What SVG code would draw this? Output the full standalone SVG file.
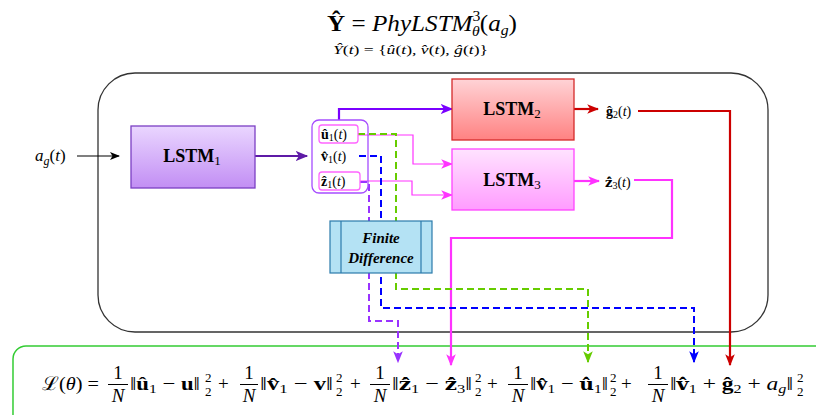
<svg xmlns="http://www.w3.org/2000/svg" width="816" height="415" viewBox="0 0 816 415">
<style>
  text { font-family: "Liberation Serif", "DejaVu Serif", serif; fill: #000; }
  .b { font-weight: bold; }
  .i { font-style: italic; }
  .dv { font-family: "DejaVu Serif", serif; }
  .lbl { font-size: 18px; font-weight: bold; text-anchor: middle; }
  .sm { font-size: 14px; }
  .m { font-size: 19px; }
  .s { font-size: 13px; }
  .ln { fill: none; }
  .dash { stroke-dasharray: 7 4; stroke-width: 2; fill: none; }
</style>
<defs>
  <linearGradient id="g1" x1="0" y1="0" x2="0" y2="1"><stop offset="0" stop-color="#ead6ff"/><stop offset="1" stop-color="#c28ef4"/></linearGradient>
  <linearGradient id="g2" x1="0" y1="0" x2="0" y2="1"><stop offset="0" stop-color="#ffd3d6"/><stop offset="1" stop-color="#ff8282"/></linearGradient>
  <linearGradient id="g3" x1="0" y1="0" x2="0" y2="1"><stop offset="0" stop-color="#ffe3ff"/><stop offset="1" stop-color="#ff9cff"/></linearGradient>
  <marker id="aK" viewBox="0 0 10 8" refX="9" refY="4" markerWidth="10" markerHeight="8" markerUnits="userSpaceOnUse" orient="auto"><path d="M0,0 L10,4 L0,8 L2.5,4 z" fill="#000"/></marker>
  <marker id="aP" viewBox="0 0 10 8" refX="9" refY="4" markerWidth="13" markerHeight="10" markerUnits="userSpaceOnUse" orient="auto"><path d="M0,0 L10,4 L0,8 L2.5,4 z" fill="#5e1aa6"/></marker>
  <marker id="aV" viewBox="0 0 10 8" refX="9" refY="4" markerWidth="13" markerHeight="10" markerUnits="userSpaceOnUse" orient="auto"><path d="M0,0 L10,4 L0,8 L2.5,4 z" fill="#7a00ff"/></marker>
  <marker id="aR" viewBox="0 0 10 8" refX="9" refY="4" markerWidth="12" markerHeight="10" markerUnits="userSpaceOnUse" orient="auto"><path d="M0,0 L10,4 L0,8 L2.5,4 z" fill="#cc0000"/></marker>
  <marker id="aM" viewBox="0 0 10 8" refX="9" refY="4" markerWidth="12" markerHeight="10" markerUnits="userSpaceOnUse" orient="auto"><path d="M0,0 L10,4 L0,8 L2.5,4 z" fill="#ff33ff"/></marker>
  <marker id="aG" viewBox="0 0 10 8" refX="9" refY="4" markerWidth="12" markerHeight="10" markerUnits="userSpaceOnUse" orient="auto"><path d="M0,0 L10,4 L0,8 L2.5,4 z" fill="#66cc00"/></marker>
  <marker id="aB" viewBox="0 0 10 8" refX="9" refY="4" markerWidth="12" markerHeight="10" markerUnits="userSpaceOnUse" orient="auto"><path d="M0,0 L10,4 L0,8 L2.5,4 z" fill="#0000ff"/></marker>
  <marker id="aU" viewBox="0 0 10 8" refX="9" refY="4" markerWidth="12" markerHeight="10" markerUnits="userSpaceOnUse" orient="auto"><path d="M0,0 L10,4 L0,8 L2.5,4 z" fill="#9933ff"/></marker>
</defs>
<rect width="816" height="415" fill="#fff"/>

<!-- Title -->
<g id="title">
  <text x="327" y="31" font-size="24" textLength="190" lengthAdjust="spacingAndGlyphs"><tspan class="b">Ŷ</tspan> = <tspan class="i">PhyLSTM</tspan><tspan font-size="15" dy="-10">3</tspan><tspan class="i" font-size="15" dx="-8" dy="15">θ</tspan><tspan dy="-5">(</tspan><tspan class="i">a</tspan><tspan class="i" font-size="15" dy="4">g</tspan><tspan dy="-4">)</tspan></text>
  <text x="333" y="54" font-size="12.5" textLength="155" lengthAdjust="spacingAndGlyphs"><tspan class="i">Ŷ</tspan>(<tspan class="i">t</tspan>) = {<tspan class="i">û</tspan>(<tspan class="i">t</tspan>), <tspan class="i">v̂</tspan>(<tspan class="i">t</tspan>), <tspan class="i">ĝ</tspan>(<tspan class="i">t</tspan>)}</text>
</g>

<!-- frames -->
<rect id="system" x="98" y="73" width="670" height="259" rx="37" fill="none" stroke="#333" stroke-width="1.3"/>
<rect id="lossframe" x="13" y="346" width="830" height="100" rx="13" fill="none" stroke="#33cc33" stroke-width="1.5"/>

<!-- connectors -->
<g id="connectors">
  <path class="ln" d="M77,156 H119" stroke="#000" stroke-width="1.2" marker-end="url(#aK)"/>
  <path class="ln" d="M255,156 H307" stroke="#5e1aa6" stroke-width="2.2" marker-end="url(#aP)"/>
  <path class="ln" d="M339,120 V109 H452" stroke="#7a00ff" stroke-width="2.2" marker-end="url(#aV)"/>
  <path class="ln" d="M358,135 H413 V164 H452" stroke="#ff33ff" stroke-width="1.2" marker-end="url(#aM)"/>
  <path class="ln" d="M360,181 H412 V195 H452" stroke="#ff33ff" stroke-width="1.2" marker-end="url(#aM)"/>
  <path class="ln" d="M574,109 H598" stroke="#cc0000" stroke-width="2.2" marker-end="url(#aR)"/>
  <path class="ln" d="M638,111 H730 V365" stroke="#cc0000" stroke-width="2.2" marker-end="url(#aR)"/>
  <path class="ln" d="M574,181 H599" stroke="#ff33ff" stroke-width="2.2" marker-end="url(#aM)"/>
  <path class="ln" d="M634,180 H672 V238 H451 V365" stroke="#ff33ff" stroke-width="2.2" marker-end="url(#aM)"/>
  <path class="dash" d="M358,134 H396 V289 H588 V362" stroke="#66cc00" marker-end="url(#aG)"/>
  <path class="dash" d="M359,156 H381 V308 H694 V362" stroke="#0000ff" marker-end="url(#aB)"/>
  <path class="dash" d="M360,182 H369 V321 H398 V362" stroke="#9933ff" marker-end="url(#aU)"/>
</g>

<!-- nodes -->
<g id="input">
  <text x="35" y="161" font-size="17"><tspan class="i">a</tspan><tspan class="i" font-size="12" dy="4">g</tspan><tspan dy="-4">(</tspan><tspan class="i">t</tspan>)</text>
</g>
<g id="lstm1">
  <rect x="131" y="126" width="124" height="62" fill="url(#g1)" stroke="#7b3fc4" stroke-width="1.3"/>
  <text class="lbl" x="192" y="162">LSTM<tspan font-weight="normal" font-size="13" dy="3">1</tspan></text>
</g>
<g id="outputs1">
  <rect x="312" y="120" width="56" height="73" rx="7" fill="none" stroke="#a64dff" stroke-width="1.3"/>
  <rect x="319" y="125" width="39" height="18" rx="3" fill="#fff" stroke="#ff66ff" stroke-width="1.3"/>
  <rect x="319" y="172" width="41" height="18" rx="3" fill="#fff" stroke="#ff66ff" stroke-width="1.3"/>
  <text class="sm" x="321" y="139"><tspan class="b">û</tspan><tspan font-size="10" dy="2">1</tspan><tspan dy="-2">(</tspan><tspan class="i">t</tspan>)</text>
  <text class="sm" x="321" y="161"><tspan class="b">v̂</tspan><tspan font-size="10" dy="2">1</tspan><tspan dy="-2">(</tspan><tspan class="i">t</tspan>)</text>
  <text class="sm" x="321" y="186"><tspan class="b">ẑ</tspan><tspan font-size="10" dy="2">1</tspan><tspan dy="-2">(</tspan><tspan class="i">t</tspan>)</text>
</g>
<g id="lstm2">
  <rect x="452" y="79" width="122" height="61" fill="url(#g2)" stroke="#d42a2a" stroke-width="1.3"/>
  <text class="lbl" x="512" y="115">LSTM<tspan font-weight="normal" font-size="13" dy="3">2</tspan></text>
</g>
<g id="g2out">
  <text class="sm" x="606" y="116"><tspan class="b">ĝ</tspan><tspan font-size="10" dy="2">2</tspan><tspan dy="-2">(</tspan><tspan class="i">t</tspan>)</text>
</g>
<g id="lstm3">
  <rect x="452" y="149" width="122" height="61" fill="url(#g3)" stroke="#ff44ff" stroke-width="1.3"/>
  <text class="lbl" x="512" y="186">LSTM<tspan font-weight="normal" font-size="13" dy="3">3</tspan></text>
</g>
<g id="z3out">
  <text class="sm" x="605" y="187"><tspan class="b dv" font-size="13">ż̂</tspan><tspan font-size="10" dy="2">3</tspan><tspan dy="-2">(</tspan><tspan class="i">t</tspan>)</text>
</g>
<g id="fd">
  <rect x="330" y="221" width="102" height="52" fill="#b4e2f4" stroke="#2b7bab" stroke-width="1.2"/>
  <line x1="341" y1="221" x2="341" y2="273" stroke="#2b7bab" stroke-width="1.2"/>
  <line x1="421" y1="221" x2="421" y2="273" stroke="#2b7bab" stroke-width="1.2"/>
  <text x="381" y="243" font-size="15" class="b i" text-anchor="middle">Finite</text>
  <text x="381" y="263" font-size="15" class="b i" text-anchor="middle">Difference</text>
</g>

<!-- loss -->
<g id="loss">
  <text class="m" x="42" y="390" textLength="57" lengthAdjust="spacingAndGlyphs">ℒ(<tspan class="i">θ</tspan>) =</text>
  <text class="m" x="118" y="379" text-anchor="middle">1</text>
  <line x1="108" y1="384.5" x2="128" y2="384.5" stroke="#000" stroke-width="1"/>
  <text class="m i" x="118" y="402" text-anchor="middle">N</text>
  <text class="m" x="130" y="390" textLength="70" lengthAdjust="spacingAndGlyphs">‖<tspan class="b">û</tspan><tspan class="s" dy="3">1</tspan><tspan dy="-3"> − </tspan><tspan class="b">u</tspan>‖</text>
  <text class="s" x="205" y="382">2</text><text class="s" x="205" y="396">2</text>
  <text class="m" x="218" y="390">+</text>

  <text class="m" x="249" y="379" text-anchor="middle">1</text>
  <line x1="240" y1="384.5" x2="258" y2="384.5" stroke="#000" stroke-width="1"/>
  <text class="m i" x="249" y="402" text-anchor="middle">N</text>
  <text class="m" x="260" y="390" textLength="73" lengthAdjust="spacingAndGlyphs">‖<tspan class="b">v̂</tspan><tspan class="s" dy="3">1</tspan><tspan dy="-3"> − </tspan><tspan class="b">v</tspan>‖</text>
  <text class="s" x="336" y="382">2</text><text class="s" x="336" y="396">2</text>
  <text class="m" x="350" y="390">+</text>

  <text class="m" x="380" y="379" text-anchor="middle">1</text>
  <line x1="370" y1="384.5" x2="390" y2="384.5" stroke="#000" stroke-width="1"/>
  <text class="m i" x="380" y="402" text-anchor="middle">N</text>
  <text class="m" x="392" y="390" textLength="80" lengthAdjust="spacingAndGlyphs">‖<tspan class="b dv" font-size="17">ż̂</tspan><tspan class="s" dy="3">1</tspan><tspan dy="-3"> − </tspan><tspan class="b dv" font-size="17">ż̂</tspan><tspan class="s" dy="3">3</tspan><tspan dy="-3">‖</tspan></text>
  <text class="s" x="475" y="382">2</text><text class="s" x="475" y="396">2</text>
  <text class="m" x="487" y="390">+</text>

  <text class="m" x="518" y="379" text-anchor="middle">1</text>
  <line x1="508" y1="384.5" x2="528" y2="384.5" stroke="#000" stroke-width="1"/>
  <text class="m i" x="518" y="402" text-anchor="middle">N</text>
  <text class="m" x="530" y="390" textLength="78" lengthAdjust="spacingAndGlyphs">‖<tspan class="b">v̂</tspan><tspan class="s" dy="3">1</tspan><tspan dy="-3"> − </tspan><tspan class="b dv" font-size="17">u̇̂</tspan><tspan class="s" dy="3">1</tspan><tspan dy="-3">‖</tspan></text>
  <text class="s" x="610" y="382">2</text><text class="s" x="610" y="396">2</text>
  <text class="m" x="621" y="390">+</text>

  <text class="m" x="658" y="379" text-anchor="middle">1</text>
  <line x1="648" y1="384.5" x2="668" y2="384.5" stroke="#000" stroke-width="1"/>
  <text class="m i" x="658" y="402" text-anchor="middle">N</text>
  <text class="m" x="670" y="390" textLength="123" lengthAdjust="spacingAndGlyphs">‖<tspan class="b dv" font-size="17">v̇̂</tspan><tspan class="s" dy="3">1</tspan><tspan dy="-3"> + </tspan><tspan class="b">ĝ</tspan><tspan class="s" dy="3">2</tspan><tspan dy="-3"> + </tspan><tspan class="i">a</tspan><tspan class="s i" dy="3">g</tspan><tspan dy="-3">‖</tspan></text>
  <text class="s" x="797" y="382">2</text><text class="s" x="797" y="396">2</text>
</g>
</svg>
